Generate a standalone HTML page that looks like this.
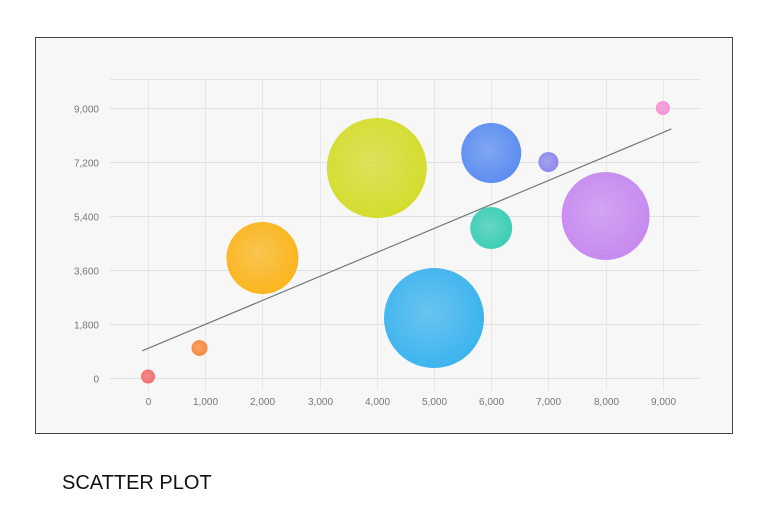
<!DOCTYPE html>
<html><head><meta charset="utf-8"><style>
body{margin:0;background:#fff;width:777px;height:504px;overflow:hidden;font-family:"Liberation Sans",sans-serif}
</style></head><body>
<svg width="777" height="504">
<defs id="defs"></defs>
<rect x="35.5" y="37.5" width="697" height="396" fill="#f7f7f7" stroke="#444"/>
<g id="grid"></g><g id="ticks"></g><g id="trend"></g><g id="bubbles"></g>
<text x="62" y="489" font-size="20" fill="#111" font-family="Liberation Sans, sans-serif">SCATTER PLOT</text>
</svg>
<script>
const xTicks=[0,1000,2000,3000,4000,5000,6000,7000,8000,9000];
const yTicks=[0,1800,3600,5400,7200,9000];
const xVals=[0,900,2000,4000,5000,6000,6000,7000,8000,9000];
const yVals=[50,1000,4000,7000,2000,7500,5000,7200,5400,9000];
const radii=[7,8,36,50,50,30,21,10,44,7];
const colors=['#f46a6a','#f7883a','#fbb41a','#d3dc2a','#3ab3ee','#5a8cf0','#38cdb4','#8b86ee','#c688f0','#f690d4'];
const xs=v=>148+v*0.0572, ys=v=>378-v*0.03;
const NS='http://www.w3.org/2000/svg';
function mk(t,a,p){const e=document.createElementNS(NS,t);for(const k in a)e.setAttribute(k,a[k]);p.appendChild(e);return e;}
const grid=document.getElementById('grid'),ticks=document.getElementById('ticks');
const fmt=v=>v.toLocaleString('en-US');
mk('line',{x1:110,x2:700,y1:79.5,y2:79.5,stroke:'#e2e2e2'},grid);
yTicks.forEach(v=>{const y=Math.round(ys(v))+0.5;
 const l=mk('line',{x1:110,x2:700,y1:y,y2:y,stroke:'#e0e0e0'},grid);
 
 
 const t=mk('text',{x:99,y:y+4,'text-anchor':'end','font-size':10,fill:'#777'},ticks);t.textContent=fmt(v);
 
 });
xTicks.forEach(v=>{const x=Math.round(xs(v))+0.5;
 const l=mk('line',{x1:x,x2:x,y1:79,y2:390,stroke:'#e6e6e6'},grid);
 
 
 const t=mk('text',{x:x,y:405,'text-anchor':'middle','font-size':10,fill:'#777'},ticks);t.textContent=fmt(v);
 
 });
// regression trend line
const n=xVals.length,mx=xVals.reduce((a,b)=>a+b)/n,my=yVals.reduce((a,b)=>a+b)/n;
let sxy=0,sxx=0;xVals.forEach((x,i)=>{sxy+=(x-mx)*(yVals[i]-my);sxx+=(x-mx)**2;});
const sl=sxy/sxx,ic=my-sl*mx;
const tl=mk('line',{x1:xs(-100),y1:ys(ic-100*sl),x2:xs(9150),y2:ys(ic+9150*sl),stroke:'#6f7a7a','stroke-width':1.2},document.getElementById('trend'));


const defs=document.getElementById('defs'),bg=document.getElementById('bubbles');
xVals.forEach((x,i)=>{
 const g=mk('radialGradient',{id:'g'+i,cx:'45%',cy:'45%',r:'60%'},defs);
 mk('stop',{offset:'0%','stop-color':colors[i],'stop-opacity':0.75},g);
 mk('stop',{offset:'100%','stop-color':colors[i]},g);
 const c=mk('circle',{cx:xs(x),cy:ys(yVals[i]),r:radii[i],fill:'url(#g'+i+')'},bg);
 
 
});
</script>
</body></html>
